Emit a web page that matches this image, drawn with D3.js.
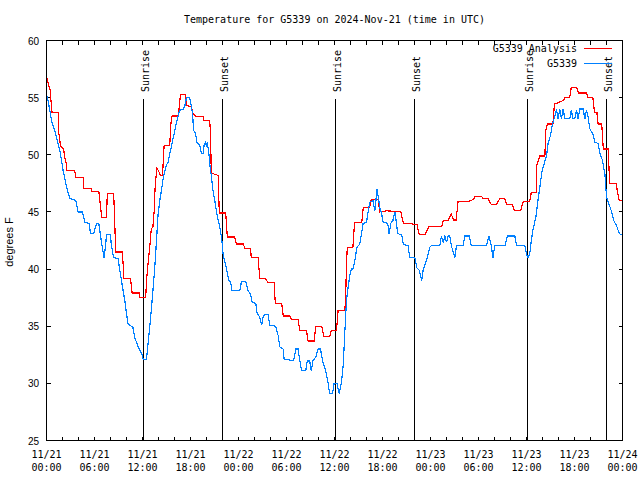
<!DOCTYPE html>
<html><head><meta charset="utf-8">
<script src="https://cdn.jsdelivr.net/npm/d3@7"></script>
<style>
html,body{margin:0;padding:0;background:#fff;}
svg{display:block;}
text{fill:#000;}
</style></head>
<body>
<svg id="chart" width="640" height="480"></svg>
<script>
// ---- data (hours since 2024-11-21 00:00 UTC, temperature in °F) ----
const analysisHours = [0.08,0.22,0.5,0.54,0.7,1.45,1.5,1.75,2.16,2.25,2.5,2.5,3.54,3.66,4.58,4.58,5.6,5.6,6.54,6.9,7.5,7.6,8.4,8.66,9.5,9.66,10.5,10.7,11.6,11.66,12.4,12.5,12.7,12.9,13.1,13.3,13.45,13.6,13.8,14.0,14.25,14.5,14.6,14.7,15.4,15.55,15.7,16.45,16.6,16.75,17.4,17.5,18.1,18.3,18.7,19.6,19.7,20.4,20.5,20.6,21.45,21.6,22.4,22.6,23.5,23.75,24.6,24.8,25.5,25.6,26.45,26.66,27.4,27.7,28.45,28.6,29.4,29.6,30.4,30.6,31.45,31.66,32.5,32.7,33.45,33.66,34.4,34.66,35.4,35.6,36.25,36.45,37.3,37.4,37.5,37.6,38.3,38.5,39.4,39.6,40.4,40.6,41.45,41.66,42.5,44.3,44.6,45.3,46.0,46.3,46.6,47.3,47.8,49.4,49.6,50.2,50.6,50.9,51.2,51.45,52.7,53.4,53.5,54.4,54.6,55.2,55.6,56.25,56.66,57.3,57.5,58.25,58.5,59.25,59.6,60.4,60.6,61.25,61.3,61.66,62.3,62.4,62.6,63.3,63.5,63.75,64.6,64.8,65.4,65.6,66.25,66.5,67.5,67.7,68.3,68.5,68.8,68.95,69.4,69.6,70.2,70.4,71.2,71.3,71.6,71.9];
const analysisTemps = [56.74,56.2,55.6,54.9,53.7,53.7,52.1,50.8,50.5,49.8,49.2,48.6,48.6,48.0,48.0,47.05,47.05,46.8,46.8,44.5,44.5,46.6,46.6,41.5,41.5,39.2,39.2,37.9,37.9,37.5,37.5,39.0,40.5,41.9,43.5,43.7,45.0,47.5,48.8,48.6,48.2,48.2,49.5,50.8,50.8,52.7,53.4,53.4,54.2,55.3,55.3,54.3,54.2,53.6,53.35,53.35,53.0,53.0,51.9,48.4,48.2,44.9,44.9,42.8,42.8,42.2,42.2,41.8,41.8,41.0,41.0,39.15,39.15,38.8,38.8,37.0,37.0,35.9,35.9,35.6,35.6,34.6,34.6,33.7,33.7,35.0,35.0,34.1,34.1,34.6,34.6,36.4,36.4,37.7,40.5,41.9,41.9,44.05,44.05,45.4,45.4,46.1,46.1,45.0,45.1,45.0,44.0,44.0,43.9,43.9,43.0,43.0,43.7,43.7,44.25,44.25,44.8,44.3,44.3,45.9,45.9,46.1,46.35,46.35,46.15,46.15,45.65,45.65,46.15,46.15,45.65,45.65,45.1,45.1,45.9,45.9,46.7,46.7,49.1,49.9,49.9,52.1,52.7,52.7,54.5,54.5,54.75,55.0,55.0,55.9,55.9,55.4,55.4,55.0,55.0,53.7,53.7,52.7,52.7,50.5,50.5,47.5,47.5,47.05,46.0,46.0];

const obsHours = [0.08,0.2,0.41,0.62,1.04,1.25,1.66,2.08,2.5,2.9,3.66,3.95,4.5,4.8,5.33,5.5,5.9,6.25,6.54,6.9,7.2,7.4,7.5,8.0,8.1,8.4,8.95,9.16,9.37,9.58,9.8,10.0,10.2,10.8,11.04,11.45,11.66,11.9,12.08,12.5,12.7,12.9,13.1,13.3,13.54,13.75,13.95,14.16,14.37,14.58,14.8,15.0,15.2,15.4,15.6,15.8,16.04,16.25,16.45,16.66,17.08,17.3,17.5,17.9,18.1,18.25,18.4,18.6,18.8,19.16,19.37,19.6,19.7,19.9,20.0,20.1,20.3,20.4,20.6,20.8,21.04,21.3,21.66,21.9,22.08,22.3,22.6,22.8,23.0,23.2,24.16,24.37,24.9,25.2,25.5,25.7,26.16,26.3,26.66,26.9,27.1,27.3,27.7,27.9,28.66,28.95,29.16,29.58,29.7,30.9,31.16,31.45,31.66,31.9,32.4,32.6,32.9,33.1,33.3,33.66,33.95,34.25,34.5,34.9,35.2,35.4,35.75,35.95,36.3,36.6,36.9,37.1,37.3,37.5,37.7,37.9,38.1,38.3,38.54,38.8,39.16,39.37,39.58,40.0,40.2,40.4,40.8,41.04,41.16,41.3,41.45,41.66,41.9,42.08,42.5,42.7,42.83,43.04,43.3,43.54,43.75,43.9,44.4,44.6,45.2,45.4,46.04,46.3,46.6,46.9,47.08,47.5,47.9,48.1,49.16,49.37,49.58,49.8,50.0,50.2,50.4,50.6,51.04,51.25,52.08,52.3,52.83,53.1,55.0,55.3,55.6,55.8,56.04,57.3,57.6,58.54,58.75,59.8,60.0,60.2,60.4,60.6,60.8,61.16,61.45,61.75,61.95,62.2,62.5,62.7,63.0,63.25,63.45,63.75,63.95,64.16,64.37,64.58,64.8,65.4,65.6,65.8,66.04,66.25,66.45,66.66,67.08,67.3,67.5,67.7,67.9,68.3,68.54,68.95,69.16,69.5,69.8,70.0,70.3,70.6,70.9,71.25,71.6,71.9];
const obsTemps = [55.1,54.7,53.9,53.0,52.1,51.5,50.4,48.6,47.2,46.2,46.0,45.0,45.0,44.1,44.0,43.1,43.1,44.0,44.0,42.2,41.0,42.2,43.0,43.0,42.1,41.0,40.9,39.9,39.0,38.1,37.2,36.1,35.2,34.9,34.0,33.2,32.9,32.6,32.1,32.1,33.5,34.9,36.4,38.1,40.2,42.5,44.8,46.0,46.9,47.9,48.6,49.1,49.35,50.1,50.7,51.4,52.1,52.85,53.4,53.9,54.0,54.3,55.0,55.0,54.3,53.6,52.1,51.95,51.1,50.8,50.1,50.1,50.8,51.1,50.7,51.1,50.1,49.2,48.2,46.9,46.0,44.8,43.7,42.65,41.3,40.6,39.7,39.0,38.9,38.1,38.1,38.9,38.9,38.1,37.8,37.1,37.0,36.2,35.8,35.1,35.9,36.0,36.0,35.1,35.0,34.2,33.2,33.0,32.1,32.0,33.0,33.0,32.0,31.1,31.1,31.95,31.95,31.1,32.0,32.3,33.0,33.0,32.0,31.1,30.0,29.1,29.1,30.0,30.0,29.1,30.25,31.7,34.6,37.25,38.4,39.4,40.0,40.0,40.75,41.9,42.2,43.1,44.0,44.1,45.0,45.85,46.0,45.1,45.85,47.0,46.4,45.4,44.8,44.1,44.1,43.8,43.1,44.0,44.25,45.0,44.0,43.1,43.0,42.15,42.06,41.0,41.0,40.1,39.9,39.0,39.9,40.75,41.9,42.06,42.06,42.9,42.35,42.9,42.35,42.9,42.9,42.06,41.0,42.06,42.06,42.9,42.9,42.06,42.06,42.9,42.06,41.0,42.06,42.06,42.9,42.9,42.06,42.06,41.3,41.0,41.3,42.5,43.4,44.5,46.1,47.6,48.6,49.2,49.9,51.0,51.7,52.7,53.15,54.0,53.15,54.0,53.15,54.0,53.15,53.15,53.9,53.15,53.15,53.9,53.15,54.0,54.0,53.15,53.9,53.3,52.3,51.8,51.1,51.0,50.2,49.5,48.3,46.3,45.7,45.1,44.25,43.8,43.1,43.0];

const sunriseHours = [12.08, 36.1, 60.1];
const sunsetHours = [22.05, 46.0, 70.0];
const yTicks = [25, 30, 35, 40, 45, 50, 55, 60];
const seriesNames = ["G5339 Analysis", "G5339"];
const seriesColors = ["#ff0000", "#0080ff"];
const titleText = "Temperature for G5339 on 2024-Nov-21 (time in UTC)";
const yLabel = "degrees F";

// ---- drawing ----
const start = Date.UTC(2024, 10, 21, 0, 0);
const toDate = h => new Date(start + h * 3600e3);
const L = 46.5, R = 622.5, T = 40.5, B = 440.5;
const svg = d3.select("#chart");
const mono = "'DejaVu Sans Mono', monospace";
const sans = "'Liberation Sans', Arial, sans-serif";

const x = d3.scaleUtc().domain([toDate(0), toDate(72)]).range([L, R]);
const y = d3.scaleLinear().domain([25, 60]).range([B, T]);

// title
svg.append("text").attr("x", (L + R) / 2).attr("y", 23).attr("text-anchor", "middle")
  .attr("font-family", mono).attr("font-size", 10).text(titleText);

// frame
svg.append("rect").attr("x", L).attr("y", T).attr("width", R - L).attr("height", B - T)
  .attr("fill", "none").attr("stroke", "#000").attr("stroke-width", 1).attr("shape-rendering", "crispEdges");

// x ticks every 2h (mirror), labels every 6h
const xTickDates = d3.range(0, 73, 2).map(toDate);
const gx = svg.append("g").attr("shape-rendering", "crispEdges");
xTickDates.forEach(d => {
  const px = Math.round(x(d) - 0.5) + 0.5;
  gx.append("line").attr("x1", px).attr("x2", px).attr("y1", B).attr("y2", B - 4).attr("stroke", "#000");
  gx.append("line").attr("x1", px).attr("x2", px).attr("y1", T).attr("y2", T + 4).attr("stroke", "#000");
});
const fmtDay = d3.utcFormat("%m/%d"), fmtTime = d3.utcFormat("%H:%M");
d3.range(0, 73, 6).map(toDate).forEach(d => {
  const t = svg.append("text").attr("x", x(d)).attr("text-anchor", "middle")
    .attr("font-family", mono).attr("font-size", 10);
  t.append("tspan").attr("x", x(d)).attr("y", 458).text(fmtDay(d));
  t.append("tspan").attr("x", x(d)).attr("y", 471).text(fmtTime(d));
});

// y ticks (mirror)
const gy = svg.append("g").attr("shape-rendering", "crispEdges");
yTicks.forEach(v => {
  const py = Math.round(y(v) - 0.5) + 0.5;
  gy.append("line").attr("x1", L).attr("x2", L + 4).attr("y1", py).attr("y2", py).attr("stroke", "#000");
  gy.append("line").attr("x1", R).attr("x2", R - 4).attr("y1", py).attr("y2", py).attr("stroke", "#000");
  svg.append("text").attr("x", 39).attr("y", y(v) + 4).attr("text-anchor", "end")
    .attr("font-family", sans).attr("font-size", 10).text(v);
});
svg.append("text").attr("transform", "translate(13,242) rotate(-90)").attr("text-anchor", "middle")
  .attr("font-family", sans).attr("font-size", 11).text(yLabel);

// sunrise / sunset markers
const events = sunriseHours.map(h => ({h, name: "Sunrise"}))
  .concat(sunsetHours.map(h => ({h, name: "Sunset"})));
events.forEach(e => {
  const px = Math.round(x(toDate(e.h)) - 0.5) + 0.5;
  svg.append("line").attr("x1", px).attr("x2", px).attr("y1", 99).attr("y2", B)
    .attr("stroke", "#000").attr("shape-rendering", "crispEdges");
  svg.append("text").attr("transform", `translate(${px + 5},92) rotate(-90)`)
    .attr("font-family", mono).attr("font-size", 10).text(e.name);
});

// series
const line = d3.line().x(d => x(d.date)).y(d => y(d.v));
const analysis = analysisHours.map((h, i) => ({date: toDate(h), v: analysisTemps[i]}));
const obs = obsHours.map((h, i) => ({date: toDate(h), v: obsTemps[i]}));
[analysis, obs].forEach((data, i) => {
  svg.append("path").datum(data).attr("d", line).attr("fill", "none")
    .attr("stroke", seriesColors[i]).attr("stroke-width", 1.2)
    .attr("shape-rendering", "crispEdges");
});

// legend
seriesNames.forEach((n, i) => {
  const ly = 48 + i * 15;
  svg.append("text").attr("x", 577).attr("y", ly + 4).attr("text-anchor", "end")
    .attr("font-family", mono).attr("font-size", 10).text(n);
  svg.append("line").attr("x1", 584).attr("x2", 612).attr("y1", ly + 0.5).attr("y2", ly + 0.5)
    .attr("stroke", seriesColors[i]).attr("stroke-width", 1).attr("shape-rendering", "crispEdges");
});
</script>
</body></html>
